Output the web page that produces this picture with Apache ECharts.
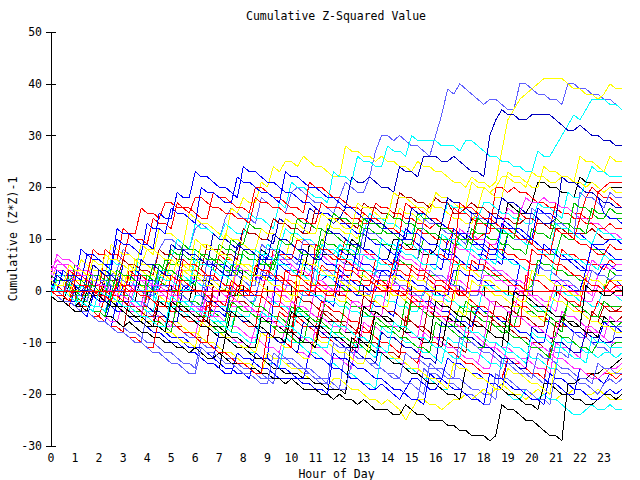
<!DOCTYPE html>
<html>
<head>
<meta charset="utf-8">
<script src="https://cdn.jsdelivr.net/npm/echarts@6/dist/echarts.min.js"></script>
<style>
html,body{margin:0;padding:0;background:#fff;}
#chart{width:640px;height:480px;}
#chart svg path{shape-rendering:crispEdges;}
</style>
</head>
<body>
<div id="chart"></div>
<script>
// hour of day, one reading every quarter hour
var hours = [0,0.25,0.5,0.75,1,1.25,1.5,1.75,2,2.25,2.5,2.75,3,3.25,3.5,3.75,4,4.25,4.5,4.75,5,5.25,5.5,5.75,
	6,6.25,6.5,6.75,7,7.25,7.5,7.75,8,8.25,8.5,8.75,9,9.25,9.5,9.75,10,10.25,10.5,10.75,11,11.25,11.5,11.75,
	12,12.25,12.5,12.75,13,13.25,13.5,13.75,14,14.25,14.5,14.75,15,15.25,15.5,15.75,16,16.25,16.5,16.75,17,17.25,17.5,17.75,
	18,18.25,18.5,18.75,19,19.25,19.5,19.75,20,20.25,20.5,20.75,21,21.25,21.5,21.75,22,22.25,22.5,22.75,23,23.25,23.5,23.75];

// cumulative (Z*Z)-1 per walk (8 values = 2 hours)
var w01 = [1,0,-1,2,3,2,1,0, 0,-1,3,4,8,7,6,6, 5,4,8,10,10,9,8,8, 12,13,12,11,10,14,16,15, 14,14,13,18,17,16,16,15, 19,20,19,18,17,17,16,15,
	18,21,20,19,19,22,27,30, 30,29,30,29,28,28,27,26, 30,34,39,38,40,39,38,37, 36,37,37,36,35,35,40,40, 39,38,38,37,37,36,40,40, 39,39,38,38,37,37,36,35];
var w02 = [5,4,3,3,2,6,5,4, 4,3,9,8,7,7,6,5, 8,7,12,11,11,10,9,15, 14,13,13,12,11,10,16,15, 18,17,17,21,20,24,23,25, 25,24,26,25,24,24,23,22,
	22,28,27,27,26,26,25,26, 25,25,24,24,23,25,24,24, 23,23,22,21,21,20,22,21, 21,20,21,27,33,35,37,38, 39,40,41,41,41,41,40,39, 39,38,38,37,38,40,39,39];
var w03 = [2,1,1,0,4,3,2,2, 1,0,6,5,5,4,3,9, 8,8,7,6,6,10,9,8, 13,12,12,11,10,13,12,11, 11,15,14,14,13,12,17,16, 21,20,20,19,18,18,17,23,
	22,22,21,26,25,25,24,24, 28,27,27,26,30,29,29,29, 29,28,28,28,27,29,29,28, 27,26,26,25,25,24,24,23, 23,27,26,26,28,30,32,34, 33,35,37,37,37,36,36,35];
var w04 = [0,-1,-1,2,1,1,0,5, 4,4,3,2,2,1,6,5, 5,4,3,3,9,8,8,7, 6,6,5,11,10,10,9,8, 12,11,11,10,10,9,14,13, 12,12,11,16,15,15,14,13,
	14,16,22,21,21,22,21,20, 20,19,24,23,23,22,26,26, 26,25,25,26,25,24,23,23, 22,30,33,35,34,34,33,33, 34,34,34,34,33,32,31,31, 32,31,30,30,29,29,28,28];
var w05 = [-1,-2,-2,1,0,0,-1,-1, -2,2,1,0,0,-1,-2,3, 2,2,1,0,0,-1,-1,-2, 3,2,2,1,0,0,-1,-1, 4,3,3,8,7,6,6,5, 4,4,3,9,8,7,7,6,
	6,5,10,9,8,8,7,6, 6,10,10,9,8,8,7,7, 8,13,12,11,11,10,14,13, 13,12,12,11,17,16,15,15, 17,21,21,20,20,19,19,18, 22,21,21,20,19,20,20,20];
var w06 = [2,1,1,0,0,-1,3,2, 2,1,0,0,-1,3,3,2, 1,1,0,4,6,5,5,4, 4,3,3,2,7,6,6,5, 5,4,3,3,2,8,7,7, 6,10,9,9,8,8,7,6,
	6,10,9,9,8,7,7,6, 5,5,9,8,8,12,11,11, 10,10,9,12,11,11,10,10, 11,11,20,20,19,20,19,19, 18,17,17,16,16,15,15,14, 14,18,20,19,20,21,21,21];
var w07 = [0,-1,-1,-2,2,2,1,0, 0,-1,4,3,3,2,1,1, 0,5,4,4,3,2,2,1, 8,7,7,6,5,5,4,4, 7,6,6,5,9,8,8,12, 11,11,10,10,9,8,8,7,
	9,8,12,11,11,15,14,14, 13,13,12,11,11,14,15,14, 14,13,17,16,16,15,14,14, 17,17,16,15,15,14,14,13, 13,17,16,16,15,14,19,18, 18,21,24,23,23,22,22,22];
var w08 = [3,2,2,1,0,0,-1,-1, -1,2,1,1,0,5,4,4, 3,3,2,1,6,5,5,4, 3,3,2,2,1,0,0,6, 5,5,4,9,8,8,7,6, 11,10,10,9,8,8,13,12,
	12,11,11,10,15,14,14,13, 12,12,16,15,15,14,13,17, 16,16,15,14,14,13,13,16, 20,19,20,22,22,21,21,20, 23,22,22,21,21,22,22,21, 21,20,21,20,19,20,19,19];
var w09 = [1,0,0,-1,4,3,3,8, 7,7,6,6,12,11,11,16, 15,15,14,17,17,16,16,15, 18,18,17,16,16,15,15,14, 14,13,18,17,17,16,16,15, 15,14,14,13,13,17,16,16,
	16,15,14,14,13,13,17,16, 16,15,15,14,14,13,13,12, 13,12,12,16,15,15,14,13, 13,12,12,11,11,10,15,14, 14,13,13,12,17,16,16,15, 15,14,14,19,18,18,17,16];
var w10 = [0,2,2,1,1,0,0,-1, -1,3,2,2,6,5,5,4, 4,3,8,7,7,6,6,5, 5,4,9,8,8,7,7,6, 12,11,11,10,10,14,13,13, 12,12,11,11,16,15,15,14,
	14,13,13,12,17,16,16,15, 15,14,19,18,18,17,17,16, 18,17,17,15,15,16,17,16, 16,15,15,14,14,13,13,14, 14,13,13,12,12,12,11,11, 11,11,12,11,10,10,10,10];
var w11 = [-1,-2,-2,-3,0,1,0,-1, -1,-2,-2,-3,1,0,0,-1, -1,-2,2,1,1,0,0,1, 2,1,0,6,5,5,4,4, 4,3,3,2,7,6,6,5, 5,4,4,3,2,2,3,2,
	8,7,7,6,5,5,4,4, 3,3,8,7,7,6,5,5, 5,4,10,9,9,8,8,7, 7,6,6,5,11,10,10,9, 9,8,8,7,13,12,12,11, 11,10,9,9,9,10,10,9];
var w12 = [2,5,5,4,4,3,2,2, 1,0,0,-1,3,3,2,2, 1,1,0,0,-1,4,4,3, 2,2,1,1,0,0,5,5, 4,3,3,2,2,7,6,6, 5,4,4,3,7,7,6,5,
	5,4,4,3,7,7,6,5, 5,4,4,3,3,2,8,8, 7,7,6,6,12,11,11,10, 10,9,9,12,16,15,15,18, 17,17,18,17,17,16,16,15, 14,14,13,13,12,11,11,10];
var w13 = [0,-1,-1,2,2,1,1,0, 0,-1,4,3,3,2,2,1, 1,5,5,4,8,7,7,6, 6,5,5,4,9,8,8,7, 7,6,6,5,5,4,8,7, 7,6,6,5,5,10,9,9,
	8,8,7,7,11,10,10,9, 9,8,8,7,7,6,10,9, 9,8,8,7,11,11,10,9, 9,8,8,7,11,10,10,9, 9,8,8,7,7,11,10,10, 9,9,8,8,7,9,8,8];
var w14 = [3,2,2,1,1,0,0,-1, -1,-2,-2,1,1,0,0,-1, -1,-2,-2,-3,-3,2,1,1, 0,0,-1,-1,-2,-2,-3,1, 0,0,-1,-1,4,3,3,2, 2,1,1,0,0,5,4,4,
	3,3,2,2,1,1,6,5, 5,4,4,3,3,2,2,8, 7,7,6,6,5,5,4,4, 4,9,8,8,7,7,6,6, 5,5,4,4,3,8,7,7, 6,6,5,5,4,6,5,5];
var w15 = [1,0,0,-1,-1,-2,-2,2, 2,1,1,0,0,-1,3,3, 2,2,1,1,0,0,-1,-2, -2,-3,1,1,0,0,5,4, 4,3,3,2,2,6,5,5, 4,4,3,3,2,2,1,1,
	1,0,0,-1,4,3,3,2, 2,1,6,5,5,4,4,3, 3,2,2,1,6,5,5,4, 4,3,3,2,2,1,1,0, 1,6,5,5,4,4,3,3, 2,2,1,1,0,4,3,3];
var w16 = [0,-1,-1,-2,-2,-3,-3,-4, -4,-5,-1,-1,-2,-2,-3,-3, -3,1,1,0,0,-1,-1,-2, -2,-3,-3,-4,-4,-5,1,0, 0,-1,-1,3,3,2,2,1, 1,0,0,-1,-1,-2,-2,-3,
	3,2,2,1,1,0,0,4, 4,3,3,2,2,1,1,0, 0,-1,-1,4,4,3,3,2, 2,1,1,0,0,-1,5,4, 4,3,3,2,2,1,1,0, 0,4,4,3,3,2,2,1];
var w17 = [4,3,3,2,2,1,1,0, 0,-1,-1,-2,-2,-3,1,1, 0,0,-1,-1,-2,-2,-3,-3, -4,-4,-1,-1,-2,-2,-3,-3, -4,-4,-5,-5,-1,-2,-2,-3, -3,-4,-4,-5,1,1,0,0,
	-1,-1,-2,-2,-3,-3,1,1, 0,0,-1,-1,-2,-2,-3,-3, 2,2,1,1,0,0,-1,-1, 3,3,2,2,1,1,0,0, -1,-1,-2,-2,2,2,1,1, 0,0,-1,3,3,2,1,0];
var w18 = [-1,2,2,1,1,0,0,-1, -1,-2,-2,-3,-3,-4,0,0, -1,-1,-2,-2,-3,-3,-4,-4, -1,-1,-2,-2,-3,-3,-4,-4, -5,-5,-1,-1,-2,-2,-3,-3, -4,-4,0,0,-1,-1,-2,-2,
	-3,-3,-4,-4,-5,-5,-1,-1, -2,-2,-3,-3,-4,-4,0,0, -1,-1,-2,-2,-3,-3,-4,-4, 1,1,0,0,-1,-1,-2,-2, -3,-3,-4,-4,0,0,-1,-1, -2,-2,-3,-3,1,0,-1,-2];
var w19 = [2,1,0,0,-1,-3,-3,-4, -5,-1,-2,-2,-3,-4,-4,-5, -6,-6,-2,-3,-3,-4,-5,-6, -6,-7,-3,-2,-3,-4,-4,-5, -6,-6,-7,-1,-2,-3,-3,-4, -5,-5,-6,-7,-7,-2,-3,-4,
	-4,-5,-6,-6,-7,-8,-4,-5, -5,-6,-7,-7,-1,-2,-2,-3, -4,-5,-5,-6,-7,-7,-8,-3, -4,-4,-5,-6,-6,-2,-3,-3, -4,-5,-5,-6,-7,-7,-2,-3, -4,-4,-5,-2,-3,-3,-4,-4];
var w20 = [0,-1,-1,-2,-3,-3,-4,-5, -5,-6,-7,-7,-8,-1,-2,-3, -3,-4,-5,-5,-6,-7,-7,-8, -9,-9,-10,1,0,0,-1,-2, -2,-3,-4,-4,-5,-6,-6,-7, -8,-8,-9,-10,-10,-4,-5,-6,
	-6,-7,-8,-8,-9,-10,-10,-11, -12,-12,-13,-5,-6,-7,-7,-8, -9,-9,-10,-11,-11,-12,-3,-4, -5,-5,-6,-7,-7,-8,-9,-9, -10,-10,-11,-12,-6,-7,-7,-8, -9,-9,-4,-5,-5,-6,-6,-5];
var w21 = [3,2,2,1,5,4,3,3, 2,1,1,0,-1,-1,-2,-3, 3,2,2,1,0,0,-1,-2, -2,-3,-4,-4,-5,-6,0,-1, -1,-2,-3,-3,-4,-5,-5,-6, -7,-3,-4,-4,-5,-6,1,0,
	-1,-1,-2,-3,-3,-4,-5,-5, -6,-7,-7,-8,-2,-3,-3,-4, -5,-5,-6,-7,-7,-2,-3,-3, -4,-5,-5,-6,-7,-7,-3,-4, -4,-5,-6,-6,-7,-8,-2,-3, -3,-4,-5,-5,-6,-6,-7,-6];
var w22 = [0,-1,-1,-2,-3,-3,-4,-5, -5,-6,-2,-3,-3,-4,-5,-5, -6,-7,-7,-8,-9,-9,-10,-11, -11,-12,-13,-13,-14,-15,-15,-16, -16,-17,-12,-13,-13,-2,8,7, 7,6,5,5,4,3,3,2,
	1,1,0,-1,-1,-2,-3,-3, -4,-5,1,0,0,-1,-2,-2, -3,-4,-4,-5,-6,-6,-7,-3, -4,-4,-5,-6,-6,-7,-8,-8, -9,-10,-10,-5,-6,-6,-7,-8, -8,-9,-10,-10,-6,-7,-7,-8];
var w23 = [1,0,0,-1,-2,-2,-3,-4, -4,-5,-6,-6,-7,-8,-8,-9, -10,-10,-11,-12,-12,-13,-14,-14, -15,-9,-10,-11,-11,-12,-13,-13, -14,-15,-15,-16,-17,-17,-13,-14, -14,-15,-16,-16,-17,-18,-18,-19,
	-19,-11,-12,-12,-13,-14,-14,-15, -16,-16,-17,-18,-18,-19,-20,-14, -15,-15,-16,-17,-17,-18,-19,-19, -20,-20,-21,-13,-14,-14,-15,-16, -16,-17,-18,-11,-12,-12,-13,-8, -9,-9,-10,-11,-11,-12,-7,-7];
var w24 = [2,1,1,0,-1,-1,-2,-3, -3,1,0,0,-1,-2,-2,-3, -4,-4,-5,-6,-6,-7,-8,-8, -9,-3,-4,-5,-5,-6,-7,-7, -8,-9,-9,-10,-11,-11,-12,-7, -8,-9,-9,-10,-11,-11,-12,-13,
	-13,-14,-15,-9,-10,-10,-11,-12, -12,-13,-14,-14,-15,-16,-8,-9, -9,-10,-11,-11,-12,-13,-13,-14, -15,-15,-10,-11,-11,-12,-13,-13, -14,-15,-15,-16,-10,-11,-11,-12, -13,-7,-8,-8,-9,-10,-10,-10];
var w25 = [4,3,3,2,1,1,0,-1, -1,-2,-3,-3,-4,-5,-5,-6, -3,-4,-4,-5,-6,-6,-7,-8, -8,-9,-10,-10,-11,-12,-12,-13, -14,-14,-15,-16,-12,-13,-13,-14, -15,-15,-16,-17,-18,-18,-19,-17,
	-17,-18,-19,-19,-20,-21,-21,-22, -21,-22,-23,-25,-23,-21,-21,-22, -22,-23,-22,-21,-21,-20,-21,-20, -19,-20,-19,-18,-19,-20,-20,-21, -20,-19,-20,-21,-21,-20,-20,-19, -19,-20,-20,-19,-20,-21,-21,-21];
var w26 = [0,-1,-1,-2,-3,1,1,0, -1,-1,-2,-3,-3,-4,-5,-5, -6,-7,-7,-8,-3,-4,-4,-5, -6,-6,-7,-8,-8,-9,-10,-10, -11,-12,-12,-13,-14,-14,-15,-9, -10,-10,-11,-12,-12,-13,-14,-14,
	-15,-16,-16,-17,-18,-18,-19,-12, -13,-13,-14,-15,-15,-16,-17,-17, -18,-19,-19,-14,-15,-15,-16,-17, -17,-18,-19,-19,-20,-21,-21,-19, -20,-21,-20,-21,-21,-22,-23,-24, -24,-23,-22,-23,-23,-22,-23,-23];
var w27 = [-1,-2,-2,-3,1,0,0,-1, -2,-2,-3,-4,-4,-5,-6,-6, -7,-8,-8,-9,-10,-10,-11,-12, -12,-13,-14,-14,-15,-9,-10,-11, -11,-12,-13,-13,-14,-15,-15,-16, -16,-16,-17,-17,-18,-18,-19,-19,
	-19,-20,-9,-10,-10,-11,-12,-12, -13,-14,-14,-15,-16,-16,-17,-18, -18,-19,-20,-20,-21,-15,-16,-16, -17,-18,-18,-19,-20,-20,-21,-22, -22,-23,-18,-18,-19,-20,-20,-21, -21,-22,-22,-21,-20,-20,-21,-20];
var w28 = [0,-1,-1,-2,-3,-3,-4,-5, -5,-6,-7,-2,-3,-3,-4,-5, -5,-6,-7,-7,-8,-9,-9,-10, -11,-11,-12,-13,-8,-9,-9,-10, -11,-11,-12,-13,-13,-14,-15,-15, -16,-17,-17,-12,-13,-13,-14,-15,
	-15,-16,-17,-17,-18,-19,-19,-18, -19,-20,-21,-19,-17,-17,-18,-19, -19,-17,-13,-14,-14,-15,-16,-16, -17,-18,-18,-19,-13,-14,-14,-15, -16,-16,-17,-18,-18,-19,-20,-20, -15,-16,-16,-17,-18,-16,-16,-15];
var w29 = [1,0,0,-1,-2,-2,1,0, 0,-1,-2,-2,-3,-4,-4,-5, -1,-2,-2,-3,-4,-4,-5,-6, -6,-7,-2,-3,-3,-4,-5,-5, -6,-7,-7,-8,-9,-9,-4,-5, -5,-6,-7,-7,-8,-9,-9,-10,
	-11,-11,-12,-7,-8,-8,-9,-10, -10,-11,-12,-12,-13,-14,-9,-10, -10,-11,-12,-12,-13,-14,-14,-15, -16,-16,-17,-17,-13,-14,-14,-15, -16,-16,-17,-12,-13,-13,-14,-15, -15,-16,-16,-17,-16,-16,-17,-16];
var w30 = [0,-1,-1,-2,-3,-3,-4,-5, -5,-6,-7,-7,-8,-9,-9,-10, -4,-5,-5,-6,-7,-7,-8,-9, -9,-10,-11,-11,-12,-13,-13,-14, -15,-15,-16,-17,-17,-18,-12,-13, -13,-14,-15,-15,-16,-17,-17,-18,
	-19,-19,-14,-15,-15,-16,-17,-17, -18,-19,-19,-20,-21,-21,-15,-16, -16,-17,-18,-18,-19,-20,-20,-21, -22,-22,-16,-17,-17,-18,-19,-19, -20,-21,-21,-22,-15,-16,-16,-17, -18,-18,-19,-20,-18,-17,-18,-17];
var w31 = [-1,-2,-2,-3,-4,-4,-5,-1, -2,-2,-3,-4,-4,-5,-6,-6, -7,-8,-8,-9,-10,-10,-11,-12, -12,-13,-14,-14,-15,-16,-16,-12, -13,-13,-14,-15,-15,-16,-17,-17, -17,-17,-18,-18,-19,-19,-20,-12,
	-13,-13,-14,-15,-15,-16,-17,-17, -18,-19,-19,-20,-21,-21,-22,-16, -17,-17,-18,-19,-19,-20,-21,-21, -22,-16,-17,-17,-18,-19,-19,-20, -21,-21,-22,-16,-17,-17,-18,-19, -19,-20,-21,-21,-20,-19,-20,-19];
var w32 = [2,1,1,0,-1,-1,-2,-3, -3,-4,0,0,-1,-2,-2,-3, -4,-4,1,0,0,-1,-2,-2, -3,-4,-4,-5,-6,-6,-7,-3, -4,-4,-5,-6,-6,-7,-8,-8, -9,-4,-5,-5,-6,-7,-7,-8,
	-9,-9,-10,-11,-11,-12,-13,-7, -8,-8,-9,-10,-10,-11,-12,-12, -13,-14,-9,-10,-10,-11,-12,-12, -13,-14,-14,-15,-10,-11,-11,-12, -13,-13,-14,-15,-15,-9,-10,-10, -11,-12,-12,-13,-12,-12,-13,-12];
var w33 = [0,-1,-1,-2,2,2,1,0, 0,-1,-2,-2,-3,-4,-4,-5, -6,-6,-7,-8,-8,-9,-10,-10, -11,-6,-7,-7,-8,-9,-9,-10, -11,-11,-12,-8,-9,-9,-10,-11, -11,-12,-13,-13,-9,-10,-10,-11,
	-12,-12,-13,-14,-14,-10,-11,-11, -12,-13,-13,-14,-15,-15,-16,-17, -17,-18,-19,-14,-15,-15,-16,-17, -17,-18,-19,-19,-15,-16,-16,-17, -18,-18,-19,-20,-14,-15,-15,-16, -17,-17,-16,-16,-15,-16,-16,-15];
var w34 = [1,0,0,-1,-2,-2,-3,-4, -4,-5,-6,-6,-2,-3,-3,-4, -5,-5,-6,-7,-7,-3,-4,-4, -5,-6,-6,-7,-8,-8,-9,-10, -10,-11,-7,-8,-8,-9,-10,-10, -11,-12,-12,-13,-7,-8,-8,-9,
	-10,-10,-11,-12,-6,-7,-7,-8, -9,-9,-10,-11,-11,-12,-8,-9, -9,-10,-11,-11,-12,-13,-13,-14, -10,-11,-11,-12,-13,-13,-14,-15, -10,-11,-11,-12,-13,-13,-14,-15, -15,-16,-17,-17,-16,-15,-15,-14];
var w35 = [0,-1,-1,3,3,2,1,1, 0,-1,-1,-2,-3,-3,-4,-5, 0,0,-1,-2,-2,-3,-4,-4, -5,-6,-6,-7,-8,-8,-2,-3, -3,-4,-5,-5,-6,-7,-7,-8, -3,-4,-4,-5,-6,-6,-7,-8,
	-8,-2,-3,-3,-4,-5,-5,-6, -7,-7,-8,-2,-3,-3,-4,-5, -5,-6,-7,-7,-3,-4,-4,-5, -6,-6,-7,-8,-8,-1,-2,-2, -3,-4,-4,-5,-6,-6,-2,-3, -3,-4,-5,-5,-2,-3,-3,-3];
var w36 = [-1,-2,-2,-3,1,0,0,-1, 0,8,7,7,6,11,10,10, 9,14,13,13,12,17,16,16, 15,14,14,19,18,18,17,16, 16,15,20,20,19,18,18,17, 16,16,15,21,20,20,19,18,
	18,17,16,16,15,14,14,13, 12,12,11,17,16,16,15,14, 14,13,12,12,11,10,10,15, 14,14,13,12,12,11,10,10, 9,14,13,13,12,11,11,10, 14,13,13,12,12,13,12,12];
var w37 = [0,4,3,3,2,8,7,7, 6,5,5,12,11,11,10,9, 9,8,15,14,14,19,18,18, 23,22,22,21,20,20,19,18, 24,23,23,22,21,21,20,19, 19,18,17,17,16,15,15,14,
	13,13,12,11,11,10,9,9, 8,7,7,12,11,11,10,9, 9,8,7,7,6,5,5,4, 9,8,8,7,6,6,5,4, 4,3,9,8,8,7,6,6, 5,4,4,3,5,5,4,4];
var w38 = [1,0,0,-1,-2,-2,-3,-4, -4,-5,1,0,0,-1,-2,-2, -3,-4,-4,-5,-6,-6,1,0, 0,-1,-2,-2,-3,-4,-4,-5, -6,-6,-7,-8,-8,-9,-10,-10, -11,-12,-6,-7,-7,-8,-9,-9,
	-10,-11,-11,-12,-13,-13,-14,-8, -9,-9,-10,-11,-11,-12,-13,-13, -14,-6,-7,-7,-8,-9,-9,-10, -11,-11,-12,-13,-13,-14,-15,-15, -7,-8,-8,-9,-10,-10,-11,-12, -12,-8,-9,-9,-10,-10,-9,-9];
var w39 = [2,1,1,0,0,-1,-1,3, 3,2,2,1,5,4,4,3, 3,2,2,6,5,5,9,8, 8,7,7,6,6,5,10,9, 9,13,12,12,11,11,10,10, 9,14,13,13,12,12,11,15,
	14,14,13,13,12,12,11,11, 15,14,14,13,13,12,12,11, 11,10,10,9,9,8,12,11, 11,10,10,9,9,8,8,7, 12,11,11,10,14,13,13,12, 12,11,16,15,15,14,14,14];
var w40 = [0,-1,-1,-2,-3,-3,0,-1, -1,-2,3,2,2,1,1,0, 0,-1,5,4,4,3,3,2, 2,1,1,0,0,6,5,5, 4,4,3,3,2,2,7,6, 6,5,5,4,4,3,3,2,
	9,8,8,7,7,6,6,5, 5,4,10,9,9,8,8,7, 7,6,6,5,5,4,9,8, 8,7,7,6,6,5,5,4, 4,3,3,2,8,7,7,6, 6,5,5,4,7,6,6,6];
var w41 = [0,-1,-1,-2,-3,-2,-3,-4, -4,-5,-5,-6,-7,-6,-7,-8, -8,-9,-9,-10,-10,-11,-11,-12, -11,-12,-13,-13,-12,-13,-14,-14, -14,-15,-15,-16,-16,-17,-17,-18, -17,-18,-19,-19,-19,-20,-20,-21,
	-20,-21,-21,-22,-21,-22,-23,-23, -23,-24,-24,-22,-23,-24,-24,-25, -25,-25,-26,-26,-27,-27,-28,-28, -28,-29,-28,-22,-23,-23,-24,-25, -25,-26,-27,-28,-28,-29,-18,-18, -17,-17,-16,-16,-15,-15,-14,-13];
var w42 = [1,0,0,-1,3,2,2,6, 5,5,4,3,3,2,6,5, 5,4,3,3,2,6,5,5, 4,9,8,8,7,11,10,10, 9,8,8,12,11,11,10,14, 13,13,12,11,11,15,14,14,
	13,12,12,17,16,16,15,14, 14,19,18,18,17,16,16,15, 19,18,18,17,16,16,21,20, 20,19,18,18,23,22,22,21, 20,20,24,23,23,22,21,21, 26,25,25,24,23,26,25,25];
var w43 = [5,4,4,3,2,2,1,0, 0,-1,-2,-2,-3,-4,-4,-5, 1,0,0,-1,-2,-2,-3,-4, -4,-5,1,0,0,-1,-2,-2, -3,-4,-4,-5,-6,0,-1,-1, -2,-3,-3,-4,-5,-5,1,0,
	0,-1,-2,-2,-3,-4,-4,-5, 2,1,1,0,-1,-1,-2,-3, -3,-4,3,2,2,1,0,0, -1,-2,-2,-3,-4,-4,0,-1, -1,-2,-3,-3,-4,1,0,0, -1,-2,-2,1,0,0,-1,-1];
var w44 = [0,-1,-1,2,2,1,0,0, -1,-2,3,3,2,1,1,0, -1,-1,4,3,3,2,1,1, 0,-1,6,5,5,4,3,3, 2,1,1,9,8,8,7,6, 6,5,10,9,9,8,7,7,
	6,5,5,4,12,11,11,10, 9,9,8,7,7,6,14,13, 13,12,11,11,10,9,15,14, 14,13,12,12,11,10,10,9, 16,15,15,14,13,13,12,11, 19,18,18,17,16,19,18,18];
var w45 = [0,-1,-1,-2,-3,-3,-4,-5, -5,-6,-7,-7,-8,-9,-9,-10, -11,-11,-5,-6,-6,-7,-8,-8, -9,-10,-10,-11,-12,-12,-13,-14, -14,-15,-16,-16,-8,-9,-9,-10, -11,4,3,3,2,1,1,0,
	-1,-1,-2,-3,-3,-4,2,1, 1,0,-1,-1,-2,-3,-3,-4, -5,-5,-6,0,-1,-1,-2,-3, -3,-4,-5,-5,-6,-7,-7,3, 2,2,1,0,0,-1,-2,-2, -3,3,2,2,1,0,1,1];
var w46 = [1,0,0,-1,-2,-2,-3,-4, -4,-5,-1,-2,-2,-3,-4,-4, -5,-6,-6,-7,-8,-2,-3,-3, -4,-5,-5,-6,-7,-7,-8,-3, -4,-4,-5,-6,-6,-7,-8,-8, -9,-10,-10,-5,-6,-6,-7,-8,
	-8,-9,-10,-10,-11,-12,-6,-7, -7,-8,-9,-9,-10,-11,-11,-12, -6,-7,-7,-8,-9,-9,-10,-11, -11,-6,-7,-7,-8,-9,-9,-10, -11,-11,-12,-13,-8,-9,-9,-10, -11,-11,-12,-10,-10,-11,-10,-10];
var w47 = [2,1,1,0,-1,-1,3,2, 2,1,0,0,5,4,4,3, 2,2,1,0,0,-1,4,3, 3,2,1,1,0,5,4,4, 3,2,2,7,6,6,5,4, 4,3,8,7,7,6,5,5,
	4,3,3,9,8,8,7,6, 6,5,11,10,10,9,8,8, 7,6,6,12,11,11,10,9, 9,15,14,14,13,12,12,11, 10,16,15,15,14,22,21,21, 20,19,19,18,15,14,14,13];
var w48 = [3,7,6,6,5,4,4,3, 2,2,1,0,0,-1,3,2, 2,1,0,0,-1,-2,4,3, 3,2,1,1,0,-1,-1,5, 4,4,3,2,2,1,0,0, 5,4,4,3,2,2,1,0,
	0,6,5,5,4,3,3,2, 1,1,7,6,6,5,4,4, 3,2,2,9,8,8,7,6, 6,5,4,4,3,2,2,1, 8,7,7,6,5,5,4,3, 3,2,6,5,5,4,5,5];
var w49 = [1,0,0,-1,-2,-2,2,1, 1,0,-1,-1,-2,-3,-3,-4, -5,-5,-1,-2,-2,-3,-4,-4, -5,-6,-6,1,0,0,-1,-2, -2,-3,-4,-4,-5,-6,-6,-7, -8,-1,-2,-2,-3,-4,-4,-5,
	-6,-6,-7,-8,-1,-2,-2,-3, -4,-4,-5,-6,-6,-7,-8,-1, -2,-2,-3,-4,-4,-5,-6,-6, -7,-8,-2,-3,-3,-4,-5,-5, -6,-7,-7,-1,-2,-2,-3,-4, -4,-5,-6,-6,-3,-4,-4,-3];
var w50 = [-1,3,3,2,1,1,0,-1, 4,3,3,2,1,1,0,-1, -1,-2,3,2,2,1,0,0, 6,5,5,4,3,3,2,1, 1,0,8,7,7,6,5,5, 4,3,3,2,1,9,8,8,
	7,6,6,5,4,4,3,10, 9,9,8,7,7,6,5,5, 4,11,10,10,9,8,8,7, 6,6,5,12,11,11,10,9, 9,8,7,7,13,12,12,11, 10,10,9,12,11,11,10,10];
var w51 = [0,-1,-1,-2,2,2,1,0, 0,-1,-2,-2,3,2,2,1, 0,0,-1,-2,-2,-3,4,3, 3,2,1,1,0,-1,-1,-2, 3,2,2,1,0,0,-1,-2, -2,3,2,2,1,0,0,-1,
	-2,-2,4,3,3,2,1,1, 0,-1,-1,-2,3,2,2,1, 0,0,-1,-2,5,4,4,3, 2,2,1,0,0,-1,-2,-2, 4,3,3,2,1,1,0,-1, -1,3,2,2,1,2,2,2];
var w52 = [0,-1,-1,-2,-3,-3,-4,0, -1,-1,-2,-3,-3,-4,-5,-5, -6,-7,-7,-8,-2,-3,-3,-4, -5,-5,-6,-7,-7,-8,-9,-9, -10,-11,-11,-5,-6,-6,-7,-8, -8,-9,-10,-10,-11,-5,-6,-6,
	-7,-8,-8,-9,-10,-10,-4,-5, -5,-6,-7,-7,-8,-9,-9,-10, -11,-11,-5,-6,-6,-7,-8,-8, -9,-10,-10,-11,-4,-5,-5,-6, -7,-7,-8,-9,-9,-5,-6,-6, -7,-8,-8,-9,-5,-6,-6,-6];
var w53 = [2,1,1,0,-1,-1,-2,3, 2,2,1,0,0,-1,-2,-2, -3,2,1,1,0,-1,-1,-2, -3,-3,3,2,2,1,0,0, -1,-2,-2,4,3,3,2,1, 1,0,-1,-1,5,4,4,3,
	2,2,1,0,0,-1,4,3, 3,2,1,1,0,-1,-1,4, 3,3,2,1,1,0,-1,-1, 5,4,4,3,2,2,1,0, 0,5,4,4,3,2,2,1, 0,0,4,3,3,2,3,3];
var w54 = [1,0,4,3,3,2,7,6, 6,5,4,10,9,9,8,7, 13,12,12,11,16,15,15,14, 13,20,19,19,18,17,17,22, 21,21,20,19,19,18,17,23, 22,22,21,20,20,19,18,18,
	17,16,16,15,14,14,13,12, 12,11,10,10,16,15,15,14, 13,13,12,11,11,10,9,9, 8,7,7,13,12,12,11,10, 10,9,8,8,7,6,6,5, 4,4,9,8,8,7,6,6];
var w55 = [0,-1,-2,-2,-3,-4,-4,-5, -6,-6,-7,-8,-8,-9,-10,-10, -11,-12,-12,-13,-14,-14,-15,-16, -16,-11,-12,-12,-13,-14,-14,-15, -16,-16,-17,-18,-18,-12,-13,-13, -14,-15,-15,-16,-17,-17,-18,-10,
	-11,-11,-12,-13,-13,-14,-15,-15, -16,-17,-17,-12,-13,-13,-14,-15, -15,-16,-17,-17,-9,-10,-10,-11, -12,-12,-13,-14,-14,-15,-16,-16, -17,-12,-13,-13,-14,-15,-15,-16, -17,-17,-18,-14,-15,-15,-16,-16];
var w56 = [0,-1,-1,4,3,3,2,1, 1,0,-1,-1,-2,4,3,3, 2,1,1,0,-1,-1,6,5, 5,4,3,3,2,1,1,0, -1,-1,5,4,4,3,2,2, 1,0,0,-1,9,8,8,7,
	6,6,5,4,4,3,2,2, 1,0,0,-1,5,4,4,3, 2,2,1,0,0,-1,6,5, 5,4,3,3,2,1,1,0, 8,7,7,6,5,5,4,3, 3,2,1,1,0,2,1,1];
var w57 = [1,0,0,-1,-2,2,1,1, 0,-1,-1,4,3,3,2,1, 1,0,5,4,4,3,2,2, 1,7,6,6,5,4,4,3, 8,7,7,6,5,5,10,9, 9,8,7,7,6,12,11,11,
	10,9,9,8,14,13,13,12, 11,11,10,9,9,15,14,14, 13,12,12,11,10,10,9,14, 13,13,12,11,11,10,16,15, 15,14,13,13,12,11,11,17, 16,16,15,14,14,16,15,15];
var w58 = [4,6,5,5,4,3,3,2, 1,1,0,-1,-1,-2,-3,-3, 2,1,1,0,-1,-1,-2,-3, -3,-4,-5,-5,0,-1,-1,-2, -3,-3,-4,-5,-5,-6,-7,-7, -2,-3,-3,-4,-5,-5,-6,-7,
	-7,-8,-2,-3,-3,-4,-5,-5, -6,-7,-7,-8,-9,-9,-3,-4, -4,-5,-6,-6,-7,-8,-8,-9, -10,-2,-3,-3,-4,-5,-5,-6, -7,-7,-8,-9,-9,-4,-5,-5, -6,-7,-7,-8,-9,-5,-6,-6];
var w59 = [2,1,1,5,4,4,3,2, 2,7,6,6,5,4,4,9, 8,8,7,6,6,5,4,4, 10,9,9,8,7,7,6,5, 5,4,3,3,2,1,1,0, -1,-1,6,5,5,4,3,3,
	2,1,1,0,-1,-1,-2,-3, -3,3,2,2,1,0,0,-1, -2,-2,-3,-4,-4,-5,2,1, 1,0,-1,-1,-2,-3,-3,-4, -5,-5,-6,-1,-2,-2,-3,-4, -4,-5,-6,-6,-7,-7,-8,-8];
var w60 = [-1,-2,-2,-3,-4,-4,0,-1, -1,-2,-3,-3,-4,-5,-5,-6, -7,-7,-2,-3,-3,-4,-5,-5, -6,-7,-7,-8,-9,-9,-4,-5, -5,-6,-7,-7,-8,-9,-9,-10, -4,-5,-5,-6,-7,-7,-8,-9,
	-9,-10,-11,-11,-3,-4,-4,-5, -6,-6,-7,-8,-8,-9,-10,-10, -2,-3,-3,-4,-5,-5,-6,-7, -7,-8,-9,-9,-10,0,-1,-1, -2,-3,-3,-4,-5,-5,-6,-7, -7,1,0,0,-1,-1,0,0];
var w61 = [0,3,2,2,1,0,0,-1, 4,3,3,2,1,1,0,6, 5,5,4,3,3,2,8,7, 7,6,5,5,4,3,3,9, 8,8,7,6,6,11,10,10, 9,8,8,7,6,6,12,11,
	11,10,9,9,8,14,13,13, 12,11,11,10,16,15,15,14, 13,13,18,17,17,16,15,15, 14,13,13,18,17,17,16,15, 15,14,13,13,14,22,21,21, 20,19,19,18,17,17,16,16];
var w62 = [1,0,0,-1,-2,-2,-3,-4, 0,-1,-1,-2,-3,-3,-4,-5, -5,-6,-7,-7,-1,-2,-2,-3, -4,-4,-5,-6,-6,-7,-8,-8, -9,-10,-10,-4,-5,-5,-6,-7, -7,-8,-9,-9,-10,-11,-11,-6,
	-7,-7,-8,-9,-9,-10,-11,-11, -12,-6,-7,-7,-8,-9,-9,-10, -11,-11,-12,-13,-13,-7,-8,-8, -9,-10,-10,-11,-12,-12,-13,-14, -8,-9,-9,-10,-11,-11,-12,-13, -13,-14,-9,-10,-10,-11,-11,-11];
var w63 = [0,-1,-1,-2,2,1,1,0, -1,-1,-2,2,1,1,0,-1, -1,-2,-3,-3,3,2,2,1, 0,0,-1,-2,-2,-3,2,1, 1,0,-1,-1,-2,-3,-3,4, 3,3,2,1,1,0,-1,-1,
	5,4,4,3,2,2,1,0, 0,6,5,5,4,3,3,2, 1,1,0,6,17,16,16,15, 14,14,13,12,12,11,10,10, 9,8,8,7,12,11,11,10, 9,9,8,7,7,9,8,8];

var walks = [w01,w02,w03,w04,w05,w06,w07,w08,w09,w10,w11,w12,w13,w14,w15,w16,w17,w18,w19,w20,
	w21,w22,w23,w24,w25,w26,w27,w28,w29,w30,w31,w32,w33,w34,w35,w36,w37,w38,w39,w40,
	w41,w42,w43,w44,w45,w46,w47,w48,w49,w50,w51,w52,w53,w54,w55,w56,w57,w58,w59,w60,
	w61,w62,w63];

var RED='#ff0000', GRN='#00c000', BLU='#0000ff', MAG='#ff30ff', CYA='#00ffff', YEL='#ffff00',
	BLK='#000000', LBL='#6060ff', DBL='#0000c0', DRD='#b00000';
var walkColors = [LBL,YEL,CYA,DBL,BLK,RED,CYA,YEL,RED,DRD,BLU,MAG,GRN,RED,GRN,BLU,MAG,CYA,RED,DRD,
	GRN,BLU,LBL,MAG,YEL,CYA,BLK,BLU,RED,LBL,BLU,CYA,YEL,MAG,GRN,RED,BLU,DBL,GRN,CYA,
	BLK,YEL,MAG,LBL,RED,GRN,BLU,MAG,DRD,CYA,YEL,BLK,LBL,BLU,LBL,RED,GRN,MAG,YEL,BLK,
	DBL,CYA,RED];

var FONT = 'DejaVu Sans Mono';
var myChart = echarts.init(document.getElementById('chart'), null, {renderer: 'svg'});

var series = [];
for (var i = 0; i < walks.length; i++) {
	var pts = [];
	var n = Math.min(hours.length, walks[i].length);
	for (var j = 0; j < n; j++) {
		pts.push([hours[j], walks[i][j]]);
	}
	series.push({
		type: 'line',
		data: pts,
		symbol: 'none',
		silent: true,
		lineStyle: {width: 1, color: walkColors[i]}
	});
}
// zero axis
series.push({
	type: 'line',
	data: [],
	silent: true,
	markLine: {
		symbol: 'none',
		silent: true,
		label: {show: false},
		lineStyle: {type: 'solid', width: 1, color: '#ff0000'},
		data: [{yAxis: 0}]
	}
});

var tickIn = {show: true, inside: true, length: 5, lineStyle: {color: '#000'}};
var lineBlk = {show: true, lineStyle: {color: '#000', width: 1}};

option = {
	animation: false,
	title: {
		text: 'Cumulative Z-Squared Value',
		left: 336,
		top: 10,
		padding: 0,
		textAlign: 'center',
		textStyle: {fontFamily: FONT, fontSize: 11.5, fontWeight: 'normal', color: '#000'}
	},
	grid: {left: 51, right: 18, top: 32, bottom: 34, containLabel: false, outerBoundsMode: 'none'},
	xAxis: [{
		type: 'value',
		min: 0,
		max: 23.75,
		interval: 1,
		name: 'Hour of Day',
		nameLocation: 'middle',
		nameGap: 22,
		nameMoveOverlap: false,
		nameTextStyle: {fontFamily: FONT, fontSize: 11.5, color: '#000'},
		axisLine: lineBlk,
		axisTick: tickIn,
		splitLine: {show: false},
		axisLabel: {
			fontFamily: FONT, fontSize: 11.5, color: '#000', margin: 6,
			formatter: function(v){ return (v % 1 === 0) ? String(v) : ''; }
		}
	}, {
		type: 'value',
		position: 'top',
		min: 0,
		max: 23.75,
		interval: 1,
		axisLine: lineBlk,
		axisTick: tickIn,
		splitLine: {show: false},
		axisLabel: {show: false}
	}],
	yAxis: [{
		type: 'value',
		min: -30,
		max: 50,
		interval: 10,
		name: 'Cumulative (Z*Z)-1',
		nameLocation: 'middle',
		nameGap: 32,
		nameMoveOverlap: false,
		nameTextStyle: {fontFamily: FONT, fontSize: 11.5, color: '#000'},
		axisLine: lineBlk,
		axisTick: tickIn,
		splitLine: {show: false},
		axisLabel: {fontFamily: FONT, fontSize: 11.5, color: '#000', margin: 9}
	}, {
		type: 'value',
		position: 'right',
		min: -30,
		max: 50,
		interval: 10,
		axisLine: lineBlk,
		axisTick: tickIn,
		splitLine: {show: false},
		axisLabel: {show: false}
	}],
	series: series
};
myChart.setOption(option);
</script>
</body>
</html>
